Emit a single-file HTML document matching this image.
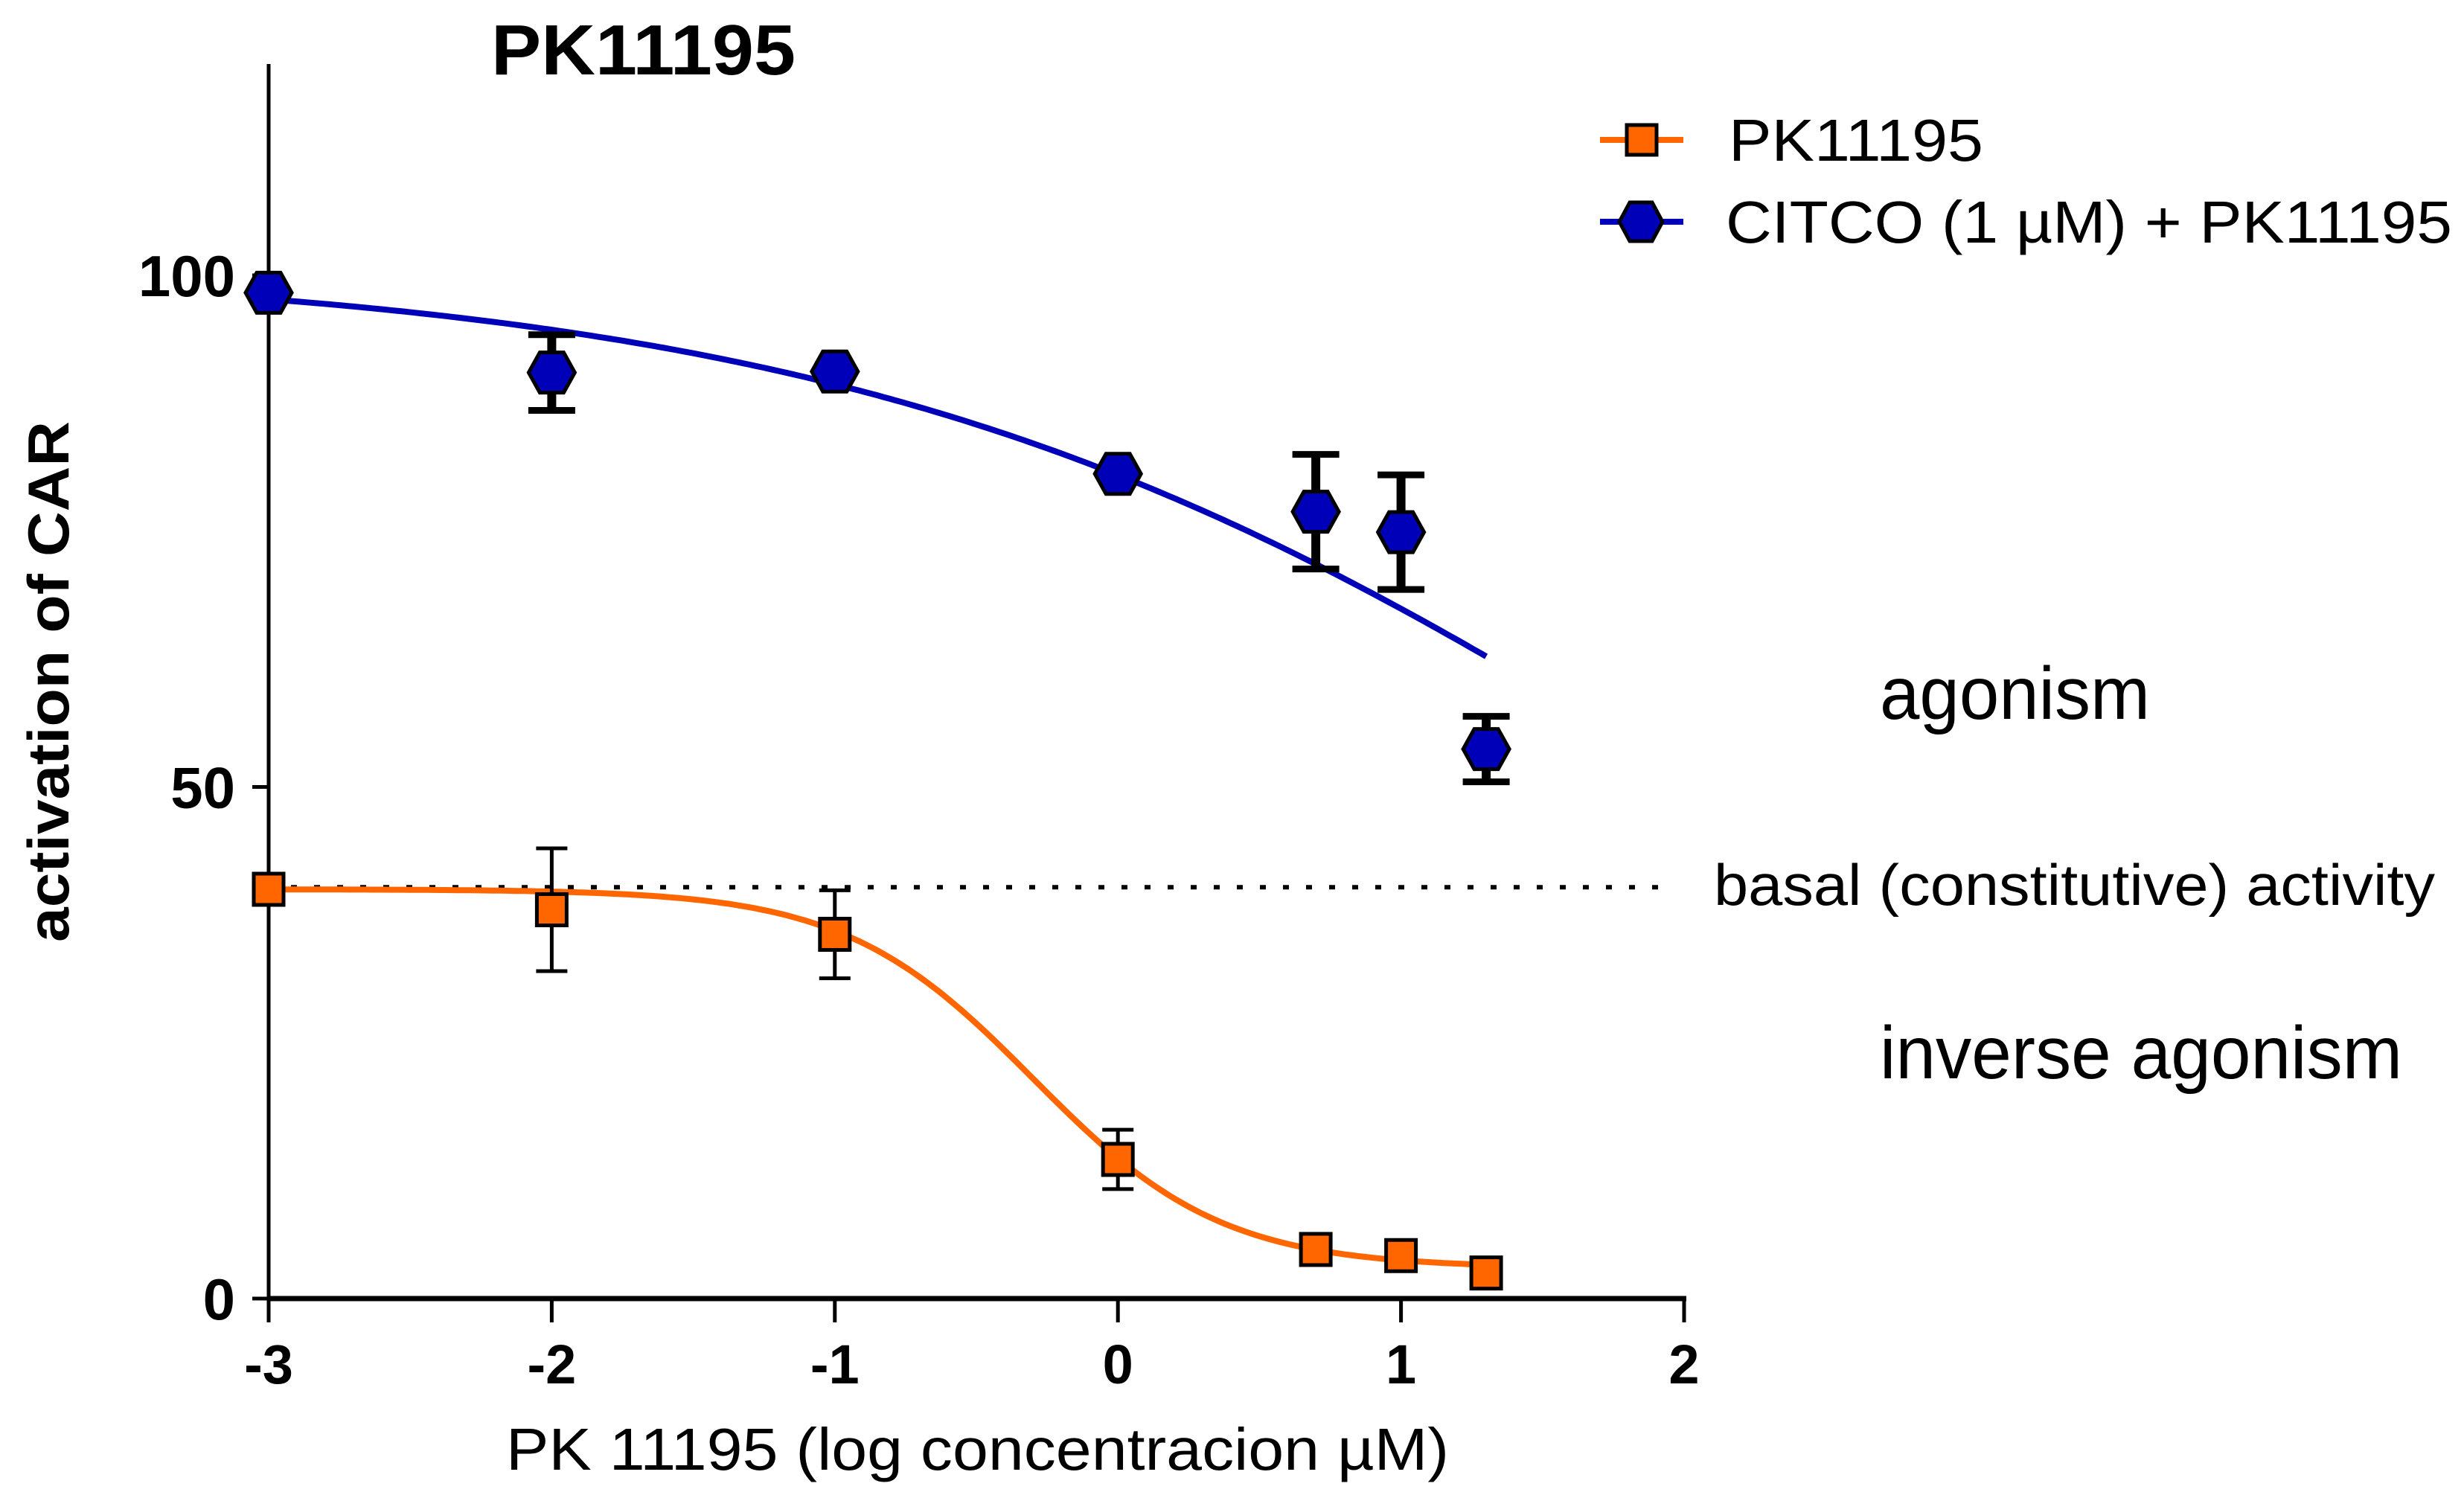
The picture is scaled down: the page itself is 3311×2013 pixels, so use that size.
<!DOCTYPE html>
<html><head><meta charset="utf-8"><style>
html,body{margin:0;padding:0;background:#fff;}
svg{display:block;}
text{font-family:"Liberation Sans",Arial,sans-serif;fill:#000;}
</style></head><body>
<svg id="chart" width="3311" height="2013" viewBox="0 0 3311 2013" xmlns="http://www.w3.org/2000/svg">
<g id="axes"></g>
<g id="plot"></g>
<text x="660" y="100" font-size="96" font-weight="bold" textLength="409" lengthAdjust="spacingAndGlyphs">PK11195</text>
<text transform="translate(92,916) rotate(-90)" text-anchor="middle" font-size="78" font-weight="bold" textLength="700" lengthAdjust="spacingAndGlyphs">activation of CAR</text>
<text x="680" y="1975" font-size="80" textLength="1267" lengthAdjust="spacingAndGlyphs">PK 11195 (log concentracion µM)</text>
<text x="2526" y="966" font-size="100" textLength="363" lengthAdjust="spacingAndGlyphs">agonism</text>
<text x="2303" y="1216" font-size="78" textLength="969" lengthAdjust="spacingAndGlyphs">basal (constitutive) activity</text>
<text x="2526" y="1449" font-size="100" textLength="702" lengthAdjust="spacingAndGlyphs">inverse agonism</text>
<g>
 <g>
  <line x1="2150" y1="188" x2="2262" y2="188" stroke="#ff6600" stroke-width="8"/>
  <rect x="2186" y="168" width="40" height="40" fill="#ff6600" stroke="#000" stroke-width="5"/>
  <text x="2323" y="216" font-size="80" textLength="342" lengthAdjust="spacingAndGlyphs">PK11195</text>
 </g>
 <g>
  <line x1="2150" y1="298" x2="2262" y2="298" stroke="#0000b8" stroke-width="8"/>
  <polygon points="2176,298 2190,272 2220,272 2234,298 2220,324 2190,324" fill="#0000b8" stroke="#000" stroke-width="5"/>
  <text x="2319" y="326" font-size="80" textLength="976" lengthAdjust="spacingAndGlyphs">CITCO (1 µM) + PK11195</text>
 </g>
</g>
</svg>
<script>
const xTicks = [-3, -2, -1, 0, 1, 2];
const yTicks = [0, 50, 100];
const doses = [-3, -2, -1, 0, 0.699, 1, 1.301];
const pkValues = [40.0, 38.0, 35.6, 13.6, 4.8, 4.2, 2.5];
const pkErr = [0, 6.0, 4.3, 2.9, 0, 0, 0];
const citcoValues = [98.3, 90.5, 90.6, 80.6, 76.9, 74.9, 53.7];
const citcoErr = [0, 3.7, 0, 0, 5.6, 5.6, 3.2];
const pkFit = [40.0, 3.0, -0.30, 1.30];      // top, bottom, logIC50, hill
const citcoFit = [101, 0, 2.04, 0.291];
const basalLevel = [40.2];

const NS = "http://www.w3.org/2000/svg";
const X0 = 361, XPU = 380.4, Y0 = 1745, YPU = 13.75;
const sx = v => X0 + (v + 3) * XPU;
const sy = v => Y0 - v * YPU;
const axes = document.getElementById('axes');
const plot = document.getElementById('plot');
function mk(tag, attrs, parent) {
  const e = document.createElementNS(NS, tag);
  for (const k in attrs) e.setAttribute(k, attrs[k]);
  parent.appendChild(e);
  return e;
}
let yl = mk('line', {x1: X0, y1: 86, x2: X0, y2: Y0, stroke: '#000', 'stroke-width': 5}, axes);


let xl = mk('line', {x1: X0 - 2, y1: Y0, x2: sx(2) + 3, y2: Y0, stroke: '#000', 'stroke-width': 7}, axes);


xTicks.forEach(t => {
  const tk = mk('line', {x1: sx(t), y1: Y0, x2: sx(t), y2: Y0 + 32, stroke: '#000', 'stroke-width': 5}, axes);
  
  
  const lb = mk('text', {x: sx(t), y: 1859, 'text-anchor': 'middle', 'font-size': 74, 'font-weight': 'bold'}, axes);
  lb.textContent = String(t);
  
  
});
yTicks.forEach(t => {
  const tk = mk('line', {x1: X0 - 22, y1: sy(t), x2: X0, y2: sy(t), stroke: '#000', 'stroke-width': 5}, axes);
  
  
  const lb = mk('text', {x: 316, y: sy(t) + 28, 'text-anchor': 'end', 'font-size': 78, 'font-weight': 'bold'}, axes);
  lb.textContent = String(t);
  
  
});
const bl = mk('line', {x1: X0 + 30, y1: sy(basalLevel[0]), x2: sx(1.95), y2: sy(basalLevel[0]), stroke: '#000', 'stroke-width': 6, 'stroke-dasharray': '8 23'}, plot);


function fitPath(p) {
  let d = '';
  for (let i = 0; i <= 200; i++) {
    const x = -3 + i * (4.301 / 200);
    const y = p[1] + (p[0] - p[1]) / (1 + Math.pow(10, (x - p[2]) * p[3]));
    d += (i ? 'L' : 'M') + sx(x).toFixed(1) + ',' + sy(y).toFixed(1);
  }
  return d;
}
const bc = mk('path', {d: fitPath(citcoFit), fill: 'none', stroke: '#0000b8', 'stroke-width': 8}, plot);


const oc = mk('path', {d: fitPath(pkFit), fill: 'none', stroke: '#ff6600', 'stroke-width': 8}, plot);


function errBar(x, v, e, w, sw, cw, name) {
  if (!e) return;
  const g = mk('g', {}, plot);
  
  
  const cx = sx(x);
  mk('line', {x1: cx, y1: sy(v + e), x2: cx, y2: sy(v - e), stroke: '#000', 'stroke-width': sw}, g);
  mk('line', {x1: cx - w / 2, y1: sy(v + e), x2: cx + w / 2, y2: sy(v + e), stroke: '#000', 'stroke-width': cw}, g);
  mk('line', {x1: cx - w / 2, y1: sy(v - e), x2: cx + w / 2, y2: sy(v - e), stroke: '#000', 'stroke-width': cw}, g);
}
doses.forEach((d, i) => errBar(d, citcoValues[i], citcoErr[i], 63, 12, 9, 'citco-error-bar'));
doses.forEach((d, i) => errBar(d, pkValues[i], pkErr[i], 42, 5, 5, 'pk11195-error-bar'));
doses.forEach((d, i) => {
  const cx = sx(d), cy = sy(citcoValues[i]);
  const pts = [[-31,0],[-16,-27],[16,-27],[31,0],[16,27],[-16,27]].map(p => (cx + p[0]) + ',' + (cy + p[1])).join(' ');
  const h = mk('polygon', {points: pts, fill: '#0000b8', stroke: '#000', 'stroke-width': 5}, plot);
  
  
});
doses.forEach((d, i) => {
  const cx = sx(d), cy = sy(pkValues[i]);
  const r = mk('rect', {x: cx - 20, y: cy - 21, width: 40, height: 42, fill: '#ff6600', stroke: '#000', 'stroke-width': 5}, plot);
  
  
});
</script>
</body></html>
